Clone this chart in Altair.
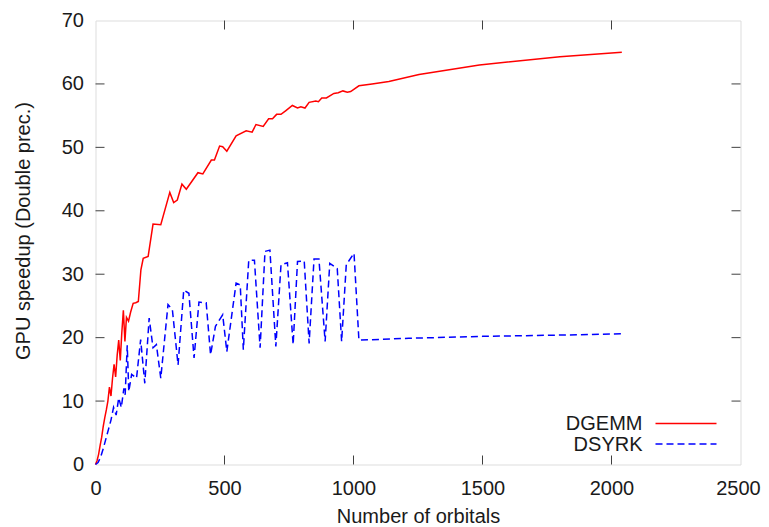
import altair as alt
import pandas as pd

# ---- data ----
dgemm_x = [0, 6, 12, 18, 24, 30, 36, 42, 48, 54, 60, 66, 72, 78, 84, 90, 96, 102, 108, 114, 120,
           128, 136, 146, 156, 166, 176,
           185, 204, 223, 253, 288, 303, 317, 335, 352,
           397, 416, 449, 461, 481, 493, 509,
           545, 584, 607, 622, 650, 671, 686, 702, 719, 738,
           763, 783, 796, 812, 828, 854, 864, 877, 895,
           924, 941, 959, 976, 989, 1021, 1072, 1137, 1254, 1488, 1800, 2040]
dgemm_y = [0, 0.6, 1.6, 3.0, 4.3, 6.0, 7.4, 8.6, 10.0, 12.2, 10.8, 13.6, 15.8, 13.8, 17.2, 19.6, 16.4, 20.8, 24.3, 19.4, 23.2,
           22.6, 24.0, 25.4, 25.5, 25.7, 30.7,
           32.5, 32.8, 37.9, 37.8, 42.9, 41.3, 41.7, 44.2, 43.4,
           46.0, 45.8, 48.0, 48.0, 50.2, 50.1, 49.4,
           51.8, 52.6, 52.4, 53.6, 53.3, 54.5, 54.5, 55.2, 55.2, 55.8,
           56.6, 56.2, 56.4, 56.2, 57.1, 57.3, 57.2, 57.8, 57.8,
           58.5, 58.6, 58.9, 58.7, 58.8, 59.7, 60.0, 60.4, 61.5, 63.0, 64.3, 65.0]

dsyrk_x = [0, 10, 20, 30, 40, 50, 60, 70, 80, 90, 100, 110,
           115, 123, 129, 140, 159, 175, 191, 208, 223, 236, 253,
           281, 298, 320, 342, 362, 382, 401, 429, 446, 465, 493, 509,
           545, 561, 573, 594, 616, 638, 657, 676, 699, 719, 744,
           766, 783, 809, 828, 847, 866, 890, 908, 937, 954, 972, 1002, 1021,
           1214, 1500, 1800, 2040]
dsyrk_y = [0, 0.3, 1.2, 2.5, 4.0, 5.5, 7.0, 9.0, 7.8, 10.5, 9.0, 12.0,
           11.0, 18.8, 11.5, 14.2, 13.6, 19.7, 12.8, 23.1, 18.4, 18.9, 13.6,
           25.2, 24.4, 15.7, 27.5, 27.0, 16.8, 25.6, 25.5, 17.3, 21.8, 23.6, 17.8,
           28.6, 28.3, 18.1, 32.2, 32.2, 18.4, 33.6, 33.8, 18.6, 31.5, 31.8,
           18.9, 32.0, 32.1, 19.1, 32.4, 32.4, 19.4, 31.7, 30.9, 19.4, 31.5, 33.3, 19.6,
           19.9, 20.2, 20.4, 20.6]

series_names = ["DGEMM", "DSYRK"]
x_tick_labels = [0, 500, 1000, 1500, 2000, 2500]
y_tick_labels = [0, 10, 20, 30, 40, 50, 60, 70]
x_inner_ticks = [500, 1000, 1500, 2000]
y_inner_ticks = [10, 20, 30, 40, 50, 60]

W, H = 645, 444
TICK = 9
AXIS_COLOR = "#404040"
TEXT_COLOR = "#1a1a1a"
FONT = "Liberation Sans"

df_r = pd.DataFrame({"x": dgemm_x, "y": dgemm_y})
df_b = pd.DataFrame({"x": dsyrk_x, "y": dsyrk_y})
df_xt = pd.DataFrame({"v": x_inner_ticks})
df_yt = pd.DataFrame({"v": y_inner_ticks})
df_leg1 = pd.DataFrame({"name": [series_names[0]]})
df_leg2 = pd.DataFrame({"name": [series_names[1]]})

xs = alt.Scale(domain=[0, 2500], nice=False, zero=False)
ys = alt.Scale(domain=[0, 70], nice=False, zero=False)

x_axis = alt.Axis(values=x_tick_labels, title="Number of orbitals", grid=False, ticks=False, tickSize=0,
                  domain=False, labelFontSize=20, labelPadding=14, labelFlush=False, labelOverlap=False,
                  labelOffset={"condition": {"test": "datum.value == 2500", "value": -2.5}, "value": 0},
                  labelColor=TEXT_COLOR, labelFont=FONT, titleFont=FONT, titleFontSize=20,
                  titleFontWeight="normal", titleColor=TEXT_COLOR, titleX=W / 2, titleY=57.5,
                  titleBaseline="alphabetic", titleAlign="center", format="d")
y_axis = alt.Axis(values=y_tick_labels, title="GPU speedup (Double prec.)", grid=False, ticks=False, tickSize=0,
                  domain=False, labelFontSize=20, labelPadding=12, labelOverlap=False,
                  labelColor=TEXT_COLOR, labelFont=FONT, titleFont=FONT, titleFontSize=20,
                  titleFontWeight="normal", titleColor=TEXT_COLOR, titleX=-72.5, titleY=210,
                  titleAngle=270, titleBaseline="middle", titleAlign="center", format="d")

red = alt.Chart(df_r).mark_line(color="#ff0000", strokeWidth=1.5).encode(
    x=alt.X("x:Q", scale=xs, axis=x_axis),
    y=alt.Y("y:Q", scale=ys, axis=y_axis),
)
blue = alt.Chart(df_b).mark_line(color="#0000ff", strokeWidth=1.5, strokeDash=[7, 4]).encode(
    x=alt.X("x:Q", scale=xs),
    y=alt.Y("y:Q", scale=ys),
)

bottom_ticks = alt.Chart(df_xt).mark_rule(color=AXIS_COLOR, strokeWidth=1).encode(
    x=alt.X("v:Q", scale=xs), y=alt.value(H), y2=alt.value(H - TICK))
top_ticks = alt.Chart(df_xt).mark_rule(color=AXIS_COLOR, strokeWidth=1).encode(
    x=alt.X("v:Q", scale=xs), y=alt.value(0), y2=alt.value(TICK))
left_ticks = alt.Chart(df_yt).mark_rule(color=AXIS_COLOR, strokeWidth=1).encode(
    y=alt.Y("v:Q", scale=ys), x=alt.value(0), x2=alt.value(TICK))
right_ticks = alt.Chart(df_yt).mark_rule(color=AXIS_COLOR, strokeWidth=1).encode(
    y=alt.Y("v:Q", scale=ys), x=alt.value(W), x2=alt.value(W - TICK))

# legend (gnuplot style: label then sample), placed inside bottom-right
leg_text1 = alt.Chart(df_leg1).mark_text(align="right", baseline="middle", font=FONT, fontSize=20,
                                         color=TEXT_COLOR).encode(
    x=alt.value(547), y=alt.value(403.5), text="name:N")
leg_text2 = alt.Chart(df_leg2).mark_text(align="right", baseline="middle", font=FONT, fontSize=20,
                                         color=TEXT_COLOR).encode(
    x=alt.value(547), y=alt.value(424), text="name:N")
leg_line1 = alt.Chart(df_leg1).mark_rule(color="#ff0000", strokeWidth=1.5).encode(
    x=alt.value(560), x2=alt.value(621), y=alt.value(403))
leg_line2 = alt.Chart(df_leg2).mark_rule(color="#0000ff", strokeWidth=1.5, strokeDash=[7, 4]).encode(
    x=alt.value(560), x2=alt.value(621), y=alt.value(423.5))

chart = alt.layer(
    red, blue, bottom_ticks, top_ticks, left_ticks, right_ticks,
    leg_text1, leg_text2, leg_line1, leg_line2,
).properties(
    width=W, height=H,
    autosize=alt.AutoSizeParams(type="none"),
    padding={"left": 87.5, "top": 12.5, "right": 20.5, "bottom": 62},
).configure_view(
    stroke=AXIS_COLOR, strokeWidth=1.2
).configure(
    font=FONT, background="white"
)

chart.save("out.html", embed_options={"renderer": "svg", "actions": False})
